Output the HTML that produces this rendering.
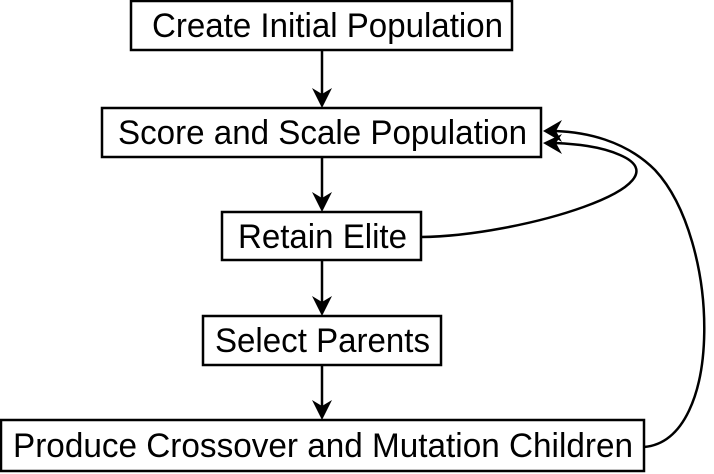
<!DOCTYPE html>
<html><head><style>html,body{margin:0;padding:0;background:#fff;}svg{display:block}</style></head>
<body>
<svg width="714" height="474" viewBox="0 0 714 474" xmlns="http://www.w3.org/2000/svg" font-family="Liberation Sans, sans-serif" font-size="34" fill="#000">
<g fill="#fff" stroke="#000" stroke-width="2.5">
<rect x="131" y="1" width="381" height="49"/>
<rect x="102" y="108" width="439" height="49"/>
<rect x="222" y="212" width="199" height="48"/>
<rect x="203" y="316" width="238" height="49"/>
<rect x="1" y="420" width="643" height="51"/>
</g>
<g stroke="#000" stroke-width="2.5" fill="none">
<line x1="322" y1="50" x2="322" y2="95"/>
<line x1="322" y1="157" x2="322" y2="198"/>
<line x1="322" y1="260" x2="322" y2="302"/>
<line x1="322" y1="365" x2="322" y2="406"/>
<path d="M421,237 C520,236 690,185 620,155 C600,146 575,144 555,143"/>
<path d="M644,447 C725,440 720,240 655,170 C625,140 585,132 555,131"/>
</g>
<g fill="#000">
<path d="M312,88 L322,108 L332,88 L322,94 Z"/>
<path d="M312,192 L322,212 L332,192 L322,198 Z"/>
<path d="M312,296 L322,316 L332,296 L322,302 Z"/>
<path d="M312,400 L322,420 L332,400 L322,406 Z"/>
<path d="M543,131 L562,120 L556,131 L562,142 Z"/>
<path d="M543,143 L562,134 L556,143 L562,154 Z"/>
</g>
<text x="152" y="37" textLength="351" lengthAdjust="spacingAndGlyphs">Create Initial Population</text>
<text x="118" y="144" textLength="409" lengthAdjust="spacingAndGlyphs">Score and Scale Population</text>
<text x="238" y="248" textLength="169" lengthAdjust="spacingAndGlyphs">Retain Elite</text>
<text x="215" y="352" textLength="215" lengthAdjust="spacingAndGlyphs">Select Parents</text>
<text x="13" y="457" textLength="620" lengthAdjust="spacingAndGlyphs">Produce Crossover and Mutation Children</text>
</svg>
</body></html>
